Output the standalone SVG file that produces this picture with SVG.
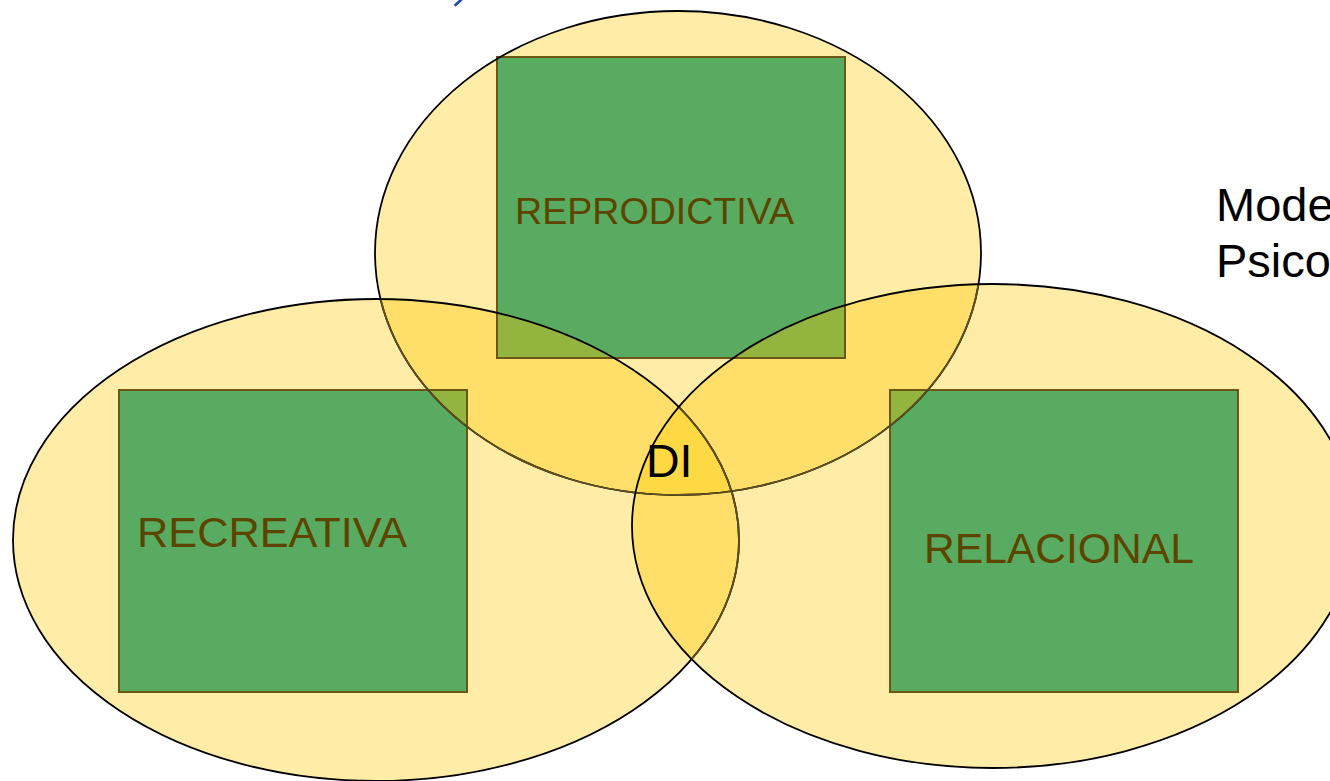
<svg xmlns="http://www.w3.org/2000/svg" width="1330" height="781" viewBox="0 0 1330 781">
<style>
.base{fill:#FFECA6;stroke:none}
.d2{fill:#FFDF6A;stroke:none}
.d3{fill:#FFD944;stroke:none}
.sq{fill:#5AAB62;stroke:none}
.ol{fill:#93B540;stroke:none}
.sqs{fill:none;stroke:#6B5714;stroke-width:2}
.edge{fill:none;stroke:#000;stroke-width:1.8}
.dim{fill:none;stroke:#5E4F1E;stroke-width:1.8}
.lbl{font-family:"Liberation Sans",Arial,sans-serif;fill:#5C4500}
.blk{font-family:"Liberation Sans",Arial,sans-serif;fill:#000}
</style>
<defs>
<ellipse id="eT" cx="678" cy="253" rx="303" ry="242"/>
<ellipse id="eL" cx="376" cy="540" rx="363" ry="241"/>
<ellipse id="eR" cx="993" cy="526" rx="361" ry="242"/>
<clipPath id="cT"><use href="#eT"/></clipPath>
<clipPath id="cL"><use href="#eL"/></clipPath>
<clipPath id="cR"><use href="#eR"/></clipPath>
<clipPath id="cLR"><use href="#eL"/><use href="#eR"/></clipPath>
</defs>
<rect width="1330" height="781" fill="#fff"/>
<line x1="455.5" y1="5" x2="462" y2="-1" stroke="#1E44A8" stroke-width="2.6" stroke-linecap="round"/>
<g id="circles">
<use href="#eT" class="base"/>
<use href="#eL" class="base"/>
<use href="#eR" class="base"/>
<use href="#eL" class="d2" clip-path="url(#cT)"/>
<use href="#eR" class="d2" clip-path="url(#cT)"/>
<use href="#eR" class="d2" clip-path="url(#cL)"/>
<g clip-path="url(#cT)"><use href="#eR" class="d3" clip-path="url(#cL)"/></g>
</g>
<g id="node-reproductiva">
<rect x="497" y="57" width="348" height="301" class="sq"/>
<rect x="497" y="57" width="348" height="301" class="ol" clip-path="url(#cLR)"/>
<rect x="497" y="57" width="348" height="301" class="sqs"/>
<text x="515" y="224" font-size="37.6" class="lbl">REPRODICTIVA</text>
</g>
<g id="node-recreativa">
<rect x="119" y="390" width="348" height="302" class="sq"/>
<rect x="119" y="390" width="348" height="302" class="ol" clip-path="url(#cT)"/>
<rect x="119" y="390" width="348" height="302" class="sqs"/>
<text x="137" y="547" font-size="43.3" class="lbl">RECREATIVA</text>
</g>
<g id="node-relacional">
<rect x="890" y="390" width="348" height="302" class="sq"/>
<rect x="890" y="390" width="348" height="302" class="ol" clip-path="url(#cT)"/>
<rect x="890" y="390" width="348" height="302" class="sqs"/>
<text x="924" y="563" font-size="42.6" class="lbl">RELACIONAL</text>
</g>
<g id="outlines">
<use href="#eT" class="edge"/>
<use href="#eT" class="dim" clip-path="url(#cLR)"/>
<use href="#eL" class="edge"/>
<use href="#eL" class="dim" clip-path="url(#cR)"/>
<use href="#eR" class="edge"/>
</g>
<g id="node-di">
<text x="646" y="477" font-size="46.5" class="blk">DI</text>
</g>
<g id="title">
<text x="1216" y="221" font-size="47" class="blk">Mode</text>
<text x="1216" y="277" font-size="47" class="blk">Psico</text>
</g>
</svg>
